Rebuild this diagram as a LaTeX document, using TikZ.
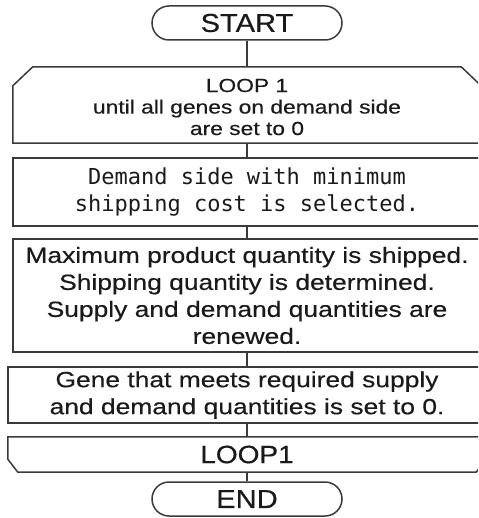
\documentclass[tikz,border=0pt]{standalone}
\usepackage{fontspec}
\setmainfont{Liberation Sans}
\newfontfamily\titlefont[FakeStretch=1.12,FakeBold=0.4]{Liberation Sans}
\newfontfamily\bodyfont[FakeStretch=1.2,FakeBold=0.4]{Liberation Sans}
\newfontfamily\monofont{DejaVu Sans Mono}
\definecolor{linec}{HTML}{3A3A3A}
\definecolor{textc}{HTML}{1A1A1A}
\tikzset{
  outline/.style={draw=linec, line width=1.5pt, line join=miter},
  terminal/.style={outline, rounded corners=17pt, minimum width=190pt,
    minimum height=34pt, inner sep=0pt, text=textc,
    font=\titlefont\fontsize{26}{26}\selectfont},
  procbox/.style={outline, minimum width=468pt, inner sep=0pt, text=textc,
    align=center},
  shapeonly/.style={inner sep=0pt, text=textc, align=center},
  wire/.style={draw=linec, line width=1.5pt}
}
\begin{document}
\begin{tikzpicture}[x=1pt,y=1pt]
\useasboundingbox (0,0) rectangle (478,-518);
\clip (0,0) rectangle (478,-518);

% terminals
\node[terminal] (start) at (247,-23) {START};
\node[terminal] (finish) at (247,-499) {END};

% loop head: hexagon with chamfered top corners
\node[shapeonly, minimum width=468pt, minimum height=76pt] (loophead) at (247,-105) {};
\node[shapeonly, font=\bodyfont\fontsize{19}{21.5}\selectfont] (loophtext)
  at (247,-107) {LOOP 1\\until all genes on demand side\\are set to 0};
\draw[outline] ([xshift=20pt]loophead.north west)
  -- ([xshift=-20pt]loophead.north east)
  -- ([yshift=-19pt]loophead.north east)
  -- (loophead.south east)
  -- (loophead.south west)
  -- ([yshift=-19pt]loophead.north west) -- cycle;

% process steps
\node[procbox, minimum height=68pt,
  font=\monofont\fontsize{22}{27}\selectfont] (select) at (247,-192)
  {Demand side with minimum\\shipping cost is selected.};
\node[procbox, minimum height=113pt,
  font=\bodyfont\fontsize{22}{27}\selectfont] (ship) at (247,-295.5)
  {Maximum product quantity is shipped.\\Shipping quantity is determined.\\Supply and demand quantities are\\renewed.};
\node[procbox, minimum width=478pt, minimum height=56pt,
  font=\bodyfont\fontsize{22}{27}\selectfont] (reset) at (247,-395)
  {Gene that meets required supply\\and demand quantities is set to 0.};

% loop tail: chamfered bottom corners
\node[shapeonly, minimum width=478pt, minimum height=35pt,
  font=\titlefont\fontsize{25}{25}\selectfont] (looptail) at (247,-454.5)
  {LOOP1};
\draw[outline] (looptail.north west) -- (looptail.north east)
  -- ([yshift=13pt]looptail.south east)
  -- ([xshift=-10pt]looptail.south east)
  -- ([xshift=10pt]looptail.south west)
  -- ([yshift=13pt]looptail.south west) -- cycle;

% connectors
\draw[wire] (start.south) -- (loophead.north);
\draw[wire] (loophead.south) -- (select.north);
\draw[wire] (select.south) -- (ship.north);
\draw[wire] (ship.south) -- (reset.north);
\draw[wire] (reset.south) -- (looptail.north);
\draw[wire] (looptail.south) -- (finish.north);
\end{tikzpicture}
\end{document}
